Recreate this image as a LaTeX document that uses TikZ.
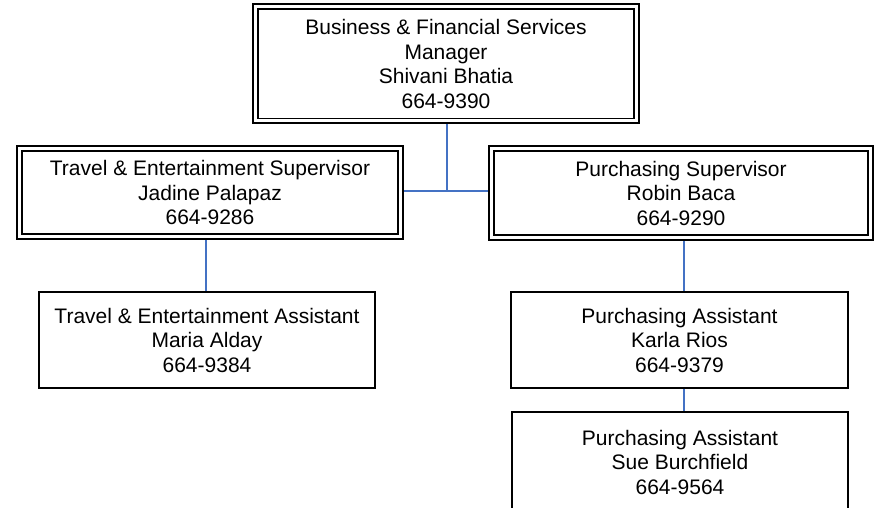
\documentclass[tikz,border=0pt]{standalone}
\usepackage{fontspec}
\setmainfont{Liberation Sans}
\usepackage{xcolor}
\definecolor{colorLink}{RGB}{68,114,196}
\usepackage{tikz}
\usetikzlibrary{positioning}
\tikzset{
  staffbox/.style={draw, line width=1.6pt, align=center, inner sep=0pt,
    font=\fontsize{21}{24.5}\selectfont},
  leadbox/.style={staffbox, line width=1.8pt, double, double distance=3pt, outer sep=3.5pt},
  link/.style={draw=colorLink, line width=1.8pt}
}

\begin{document}
\begin{tikzpicture}[x=1pt, y=-1pt]
\useasboundingbox (0,0) rectangle (878,508);
\node[leadbox, minimum width=381pt, minimum height=114.5pt] (mgr) at (446,63.75) {Business \& Financial Services\\Manager\\Shivani Bhatia\\664-9390};
\node[leadbox, minimum width=381pt, minimum height=88pt] (tesup) at (210,192.5) {Travel \& Entertainment Supervisor\\Jadine Palapaz\\664-9286};
\node[leadbox, minimum width=379pt, minimum height=89pt] (pursup) at (681,193) {Purchasing Supervisor\\Robin Baca\\664-9290};
\node[staffbox, minimum width=336pt, minimum height=96pt] (teasst) at (207,340) {Travel \& Entertainment Assistant\\Maria Alday\\664-9384};
\node[staffbox, minimum width=337pt, minimum height=96pt] (purasstA) at (679.5,340) {Purchasing Assistant\\Karla Rios\\664-9379};
\node[staffbox, minimum width=336pt, minimum height=100pt] (purasstB) at (680,462) {Purchasing Assistant\\Sue Burchfield\\664-9564};
% branch points of the connectors
\coordinate (jn) at (446.7,190.7);
\coordinate (lx) at (206,0);
\coordinate (rx) at (684,0);
\draw[link] (mgr.south -| jn) -- (jn);
\draw[link] (tesup.east |- jn) -- (pursup.west |- jn);
\draw[link] (tesup.south -| lx) -- (teasst.north -| lx);
\draw[link] (pursup.south -| rx) -- (purasstA.north -| rx);
\draw[link] (purasstA.south -| rx) -- (purasstB.north -| rx);
\end{tikzpicture}
\end{document}
